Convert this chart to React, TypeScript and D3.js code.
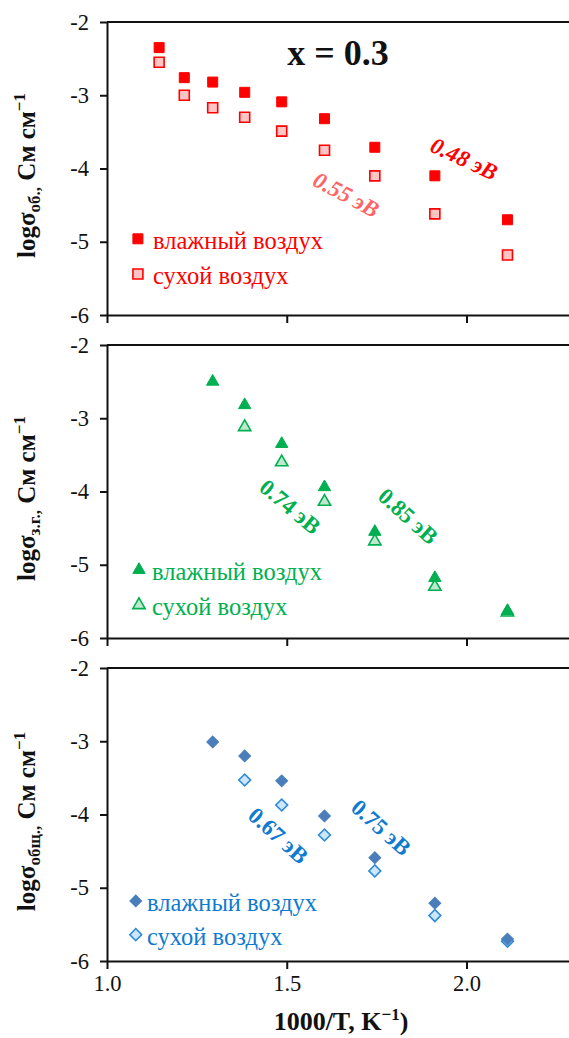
import { useEffect, useRef } from "react";
import * as d3 from "d3";

// 1000/T, K^-1
const xAll = [1.145, 1.215, 1.294, 1.383, 1.486, 1.605, 1.745, 1.912, 2.114];
const xFrom500 = [1.294, 1.383, 1.486, 1.605, 1.745, 1.912, 2.114];
const xFrom450 = [1.383, 1.486, 1.605, 1.745, 1.912, 2.114];

// log sigma, S/cm
const bulkWet = [-2.35, -2.76, -2.82, -2.96, -3.09, -3.32, -3.71, -4.1, -4.7];
const bulkDry = [-2.55, -3.0, -3.17, -3.3, -3.49, -3.75, -4.1, -4.62, -5.18];
const gbWet = [-2.5, -2.82, -3.35, -3.94, -4.55, -5.18, -5.63];
const gbDry = [-3.12, -3.6, -4.14, -4.68, -5.3, -5.65];
const totWet = [-3.01, -3.2, -3.54, -4.02, -4.59, -5.21, -5.7];
const totDry = [-3.53, -3.87, -4.28, -4.77, -5.38, -5.73];

const yTicks = [-2, -3, -4, -5, -6];
const xTicks = [1.0, 1.5, 2.0];
const legendLabels = ["влажный воздух", "сухой воздух"];
const ySubs = ["об.,", "з.г.,", "общ.,"];
const energyLabels = [["0.48 эВ", "0.55 эВ"], ["0.74 эВ", "0.85 эВ"], ["0.67 эВ", "0.75 эВ"]];

const FONT = "'Liberation Serif', 'Times New Roman', serif";

const panels = [
  {
    top: 22, wetX: xAll, wet: bulkWet, dryX: xAll, dry: bulkDry,
    shape: "square", wetFill: "#ff0000", wetStroke: "#ff0000", dryFill: "#ffc4c4", dryStroke: "#ff0000",
    text: "#ff0000",
    legend: { x: 1.086, y: [-4.96, -5.44], tx: 153 },
    notes: [
      { x: 1.993, y: -3.87, rot: 25, color: "#ff0000", italic: true },
      { x: 1.665, y: -4.36, rot: 28, color: "#ff6464", italic: true },
    ],
  },
  {
    top: 345, wetX: xFrom500, wet: gbWet, dryX: xFrom450, dry: gbDry,
    shape: "triangle", wetFill: "#00b050", wetStroke: "#00b050", dryFill: "#bfe9cf", dryStroke: "#00b050",
    text: "#00b050",
    legend: { x: 1.089, y: [-5.07, -5.55], tx: 152 },
    notes: [
      { x: 1.509, y: -4.21, rot: 40, color: "#00b050", italic: false },
      { x: 1.837, y: -4.34, rot: 42, color: "#00b050", italic: false },
    ],
  },
  {
    top: 668, wetX: xFrom500, wet: totWet, dryX: xFrom450, dry: totDry,
    shape: "diamond", wetFill: "#4a7ebb", wetStroke: "#4a7ebb", dryFill: "#cde6f8", dryStroke: "#2e8cdb",
    text: "#0f7bd0",
    legend: { x: 1.08, y: [-5.18, -5.64], tx: 147 },
    notes: [
      { x: 1.476, y: -4.29, rot: 42, color: "#0f7bd0", italic: false },
      { x: 1.762, y: -4.18, rot: 42, color: "#0f7bd0", italic: false },
    ],
  },
];

const H = 293;

function symbolPath(shape: string) {
  if (shape === "square") return d3.symbol().type(d3.symbolSquare).size(100)();
  if (shape === "triangle") return d3.symbol().type(d3.symbolTriangle).size(66)();
  return d3.symbol().type(d3.symbolSquare).size(70)();
}

export default function App() {
  const ref = useRef<SVGSVGElement>(null);

  useEffect(() => {
    const svg = d3.select(ref.current);
    svg.selectAll("*").remove();

    const x = d3.scaleLinear().domain([1.0, 2.3]).range([107, 107 + 1.3 * 359.5]);

    panels.forEach((p, i) => {
      const y = d3.scaleLinear().domain([-6, -2]).range([p.top + H, p.top]);
      const g = svg.append("g");
      const last = i === panels.length - 1;

      // frame top line
      g.append("line")
        .attr("x1", x(1.0)).attr("x2", x(2.3))
        .attr("y1", y(-2)).attr("y2", y(-2))
        .attr("stroke", "#111").attr("stroke-width", 2);

      const yAxis = g.append("g")
        .attr("transform", `translate(${x(1.0)},0)`)
        .call(d3.axisLeft(y).tickValues(yTicks).tickSize(7).tickSizeOuter(0).tickPadding(11)
          .tickFormat((d) => String(d)));
      const xAxis = g.append("g")
        .attr("transform", `translate(0,${y(-6)})`)
        .call(d3.axisBottom(x).tickValues(xTicks).tickSize(8).tickSizeOuter(0).tickPadding(6)
          .tickFormat((d) => (last ? d3.format(".1f")(d as number) : "")));
      [yAxis, xAxis].forEach((a) => {
        a.selectAll("path,line").attr("stroke", "#111").attr("stroke-width", 2);
        a.selectAll("text").attr("font-family", FONT).attr("font-size", 22.5).attr("fill", "#111");
      });

      // y title
      const tx = 35, ty = p.top + H / 2 + 7;
      const yt = g.append("text")
        .attr("transform", `translate(${tx},${ty}) rotate(-90)`)
        .attr("text-anchor", "middle")
        .attr("font-family", FONT).attr("font-weight", "bold").attr("font-size", 25)
        .attr("fill", "#111");
      yt.append("tspan").text("logσ");
      yt.append("tspan").attr("font-size", 17).attr("dy", 5).text(ySubs[i]);
      yt.append("tspan").attr("dy", -5).text(" См см");
      yt.append("tspan").attr("font-size", 17).attr("dy", -10).text("−1");

      const sym = symbolPath(p.shape);
      const rot = p.shape === "diamond" ? " rotate(45)" : "";

      const dry = p.dryX.map((v, k) => [v, p.dry[k]]);
      const wet = p.wetX.map((v, k) => [v, p.wet[k]]);
      g.selectAll(".dry").data(dry).join("path").attr("class", "dry")
        .attr("d", sym)
        .attr("transform", (d) => `translate(${x(d[0])},${y(d[1])})${rot}`)
        .attr("fill", p.dryFill).attr("stroke", p.dryStroke).attr("stroke-width", 1.6);
      g.selectAll(".wet").data(wet).join("path").attr("class", "wet")
        .attr("d", sym)
        .attr("transform", (d) => `translate(${x(d[0])},${y(d[1])})${rot}`)
        .attr("fill", p.wetFill).attr("stroke", p.wetStroke).attr("stroke-width", 1);

      // legend
      p.legend.y.forEach((ly, k) => {
        g.append("path").attr("d", sym)
          .attr("transform", `translate(${x(p.legend.x)},${y(ly)})${rot}`)
          .attr("fill", k === 0 ? p.wetFill : p.dryFill)
          .attr("stroke", k === 0 ? p.wetStroke : p.dryStroke)
          .attr("stroke-width", k === 0 ? 1 : 1.6);
        g.append("text")
          .attr("x", p.legend.tx).attr("y", y(ly) + 10)
          .attr("font-family", FONT).attr("font-size", 24.5)
          .attr("fill", p.text)
          .text(legendLabels[k]);
      });

      // activation energies
      p.notes.forEach((n, k) => {
        g.append("text")
          .attr("transform", `translate(${x(n.x)},${y(n.y)}) rotate(${n.rot})`)
          .attr("text-anchor", "middle").attr("dominant-baseline", "central")
          .attr("font-family", FONT).attr("font-weight", "bold")
          .attr("font-style", n.italic ? "italic" : "normal")
          .attr("font-size", 23).attr("fill", n.color)
          .text(energyLabels[i][k]);
      });

      if (i === 0) {
        g.append("text").attr("x", 338).attr("y", 65)
          .attr("text-anchor", "middle")
          .attr("font-family", FONT).attr("font-weight", "bold").attr("font-size", 36)
          .attr("fill", "#111").text("x = 0.3");
      }

      if (last) {
        const xt = g.append("text").attr("x", 341).attr("y", 1030)
          .attr("text-anchor", "middle")
          .attr("font-family", FONT).attr("font-weight", "bold").attr("font-size", 26)
          .attr("fill", "#111");
        xt.append("tspan").text("1000/T, K");
        xt.append("tspan").attr("font-size", 17).attr("dy", -10).text("−1");
        xt.append("tspan").attr("dy", 10).text(")");
      }
    });
  }, []);

  return (
    <svg ref={ref} width={569} height={1038}
      style={{ position: "absolute", left: 0, top: 0, background: "#fff" }} />
  );
}
